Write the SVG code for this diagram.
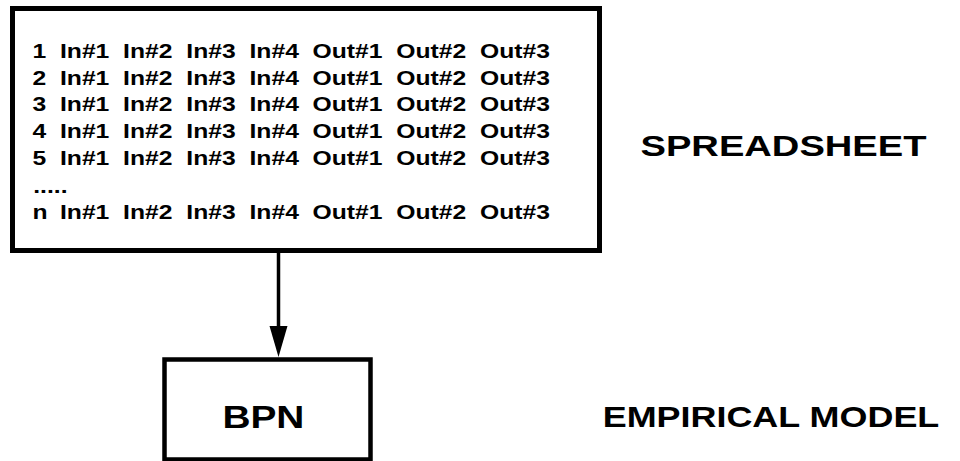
<svg xmlns="http://www.w3.org/2000/svg" width="960" height="461" viewBox="0 0 960 461">
<style>
.box{fill:#fff;stroke:#000}
.t{font-family:"Liberation Sans",Arial,sans-serif;font-weight:bold;fill:#000}
.row{font-size:21px}
.big{font-size:30px}
</style>
<rect width="960" height="461" fill="#fff"/>
<g id="spreadsheet">
<rect class="box" x="12.5" y="8.5" width="587" height="242" stroke-width="5"/>
<g class="t row" transform="scale(1.175,1)">
<text y="58.5"><tspan x="27.66">1</tspan><tspan x="51.04">In#1</tspan><tspan x="104.77">In#2</tspan><tspan x="158.55">In#3</tspan><tspan x="212.34">In#4</tspan><tspan x="266.04">Out#1</tspan><tspan x="337.28">Out#2</tspan><tspan x="408.6">Out#3</tspan></text>
<text y="85"><tspan x="27.66">2</tspan><tspan x="51.04">In#1</tspan><tspan x="104.77">In#2</tspan><tspan x="158.55">In#3</tspan><tspan x="212.34">In#4</tspan><tspan x="266.04">Out#1</tspan><tspan x="337.28">Out#2</tspan><tspan x="408.6">Out#3</tspan></text>
<text y="111.5"><tspan x="27.66">3</tspan><tspan x="51.04">In#1</tspan><tspan x="104.77">In#2</tspan><tspan x="158.55">In#3</tspan><tspan x="212.34">In#4</tspan><tspan x="266.04">Out#1</tspan><tspan x="337.28">Out#2</tspan><tspan x="408.6">Out#3</tspan></text>
<text y="138.3"><tspan x="27.66">4</tspan><tspan x="51.04">In#1</tspan><tspan x="104.77">In#2</tspan><tspan x="158.55">In#3</tspan><tspan x="212.34">In#4</tspan><tspan x="266.04">Out#1</tspan><tspan x="337.28">Out#2</tspan><tspan x="408.6">Out#3</tspan></text>
<text y="165"><tspan x="27.66">5</tspan><tspan x="51.04">In#1</tspan><tspan x="104.77">In#2</tspan><tspan x="158.55">In#3</tspan><tspan x="212.34">In#4</tspan><tspan x="266.04">Out#1</tspan><tspan x="337.28">Out#2</tspan><tspan x="408.6">Out#3</tspan></text>
<text x="28.3" y="193">.....</text>
<text y="219.5"><tspan x="27.66">n</tspan><tspan x="51.04">In#1</tspan><tspan x="104.77">In#2</tspan><tspan x="158.55">In#3</tspan><tspan x="212.34">In#4</tspan><tspan x="266.04">Out#1</tspan><tspan x="337.28">Out#2</tspan><tspan x="408.6">Out#3</tspan></text>
</g>
</g>
<g id="bpn">
<rect class="box" x="164.5" y="359.5" width="206" height="100" stroke-width="4.5"/>
<text class="t" x="222.4" y="428" font-size="31" textLength="82" lengthAdjust="spacingAndGlyphs">BPN</text>
</g>
<g id="label-spreadsheet">
<text class="t big" x="640.5" y="155.5" textLength="286" lengthAdjust="spacingAndGlyphs">SPREADSHEET</text>
</g>
<g id="label-empirical">
<text class="t big" x="602.7" y="427" textLength="336.6" lengthAdjust="spacingAndGlyphs">EMPIRICAL MODEL</text>
</g>
<g id="connectors">
<line x1="278.5" y1="253" x2="278.5" y2="327" stroke="#000" stroke-width="3.5"/>
<path d="M269.5,326 L287.5,326 L278.5,357 Z" fill="#000"/>
</g>
</svg>
